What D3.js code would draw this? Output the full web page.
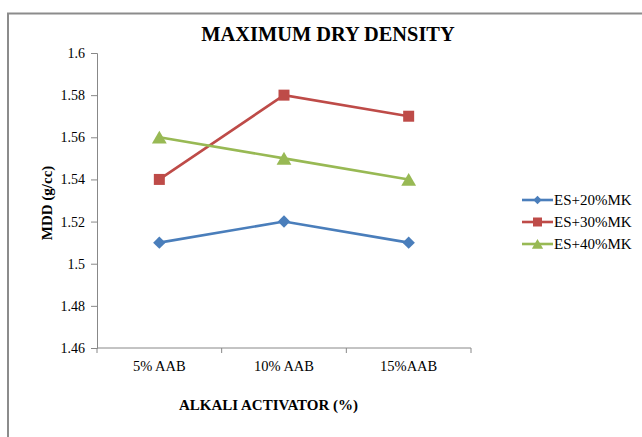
<!DOCTYPE html>
<html>
<head>
<meta charset="utf-8">
<script src="https://cdn.jsdelivr.net/npm/d3@7/dist/d3.min.js"></script>
<style>
  body { margin: 0; background: #fff; }
  svg { display: block; font-family: "Liberation Serif", "Times New Roman", serif; }
</style>
</head>
<body>
<svg id="chart" width="642" height="437"></svg>
<script>
const categories = ["5% AAB", "10% AAB", "15%AAB"];
const seriesNames = ["ES+20%MK", "ES+30%MK", "ES+40%MK"];
const es20 = [1.51, 1.52, 1.51];
const es30 = [1.54, 1.58, 1.57];
const es40 = [1.56, 1.55, 1.54];
const yTicks = [1.46, 1.48, 1.5, 1.52, 1.54, 1.56, 1.58, 1.6];
const colors = ["#4A7EBB", "#BE4B48", "#98B954"];
const symbols = [d3.symbolDiamond2, d3.symbolSquare, d3.symbolTriangle];
const symbolSizes = [98, 121, 95];
const legendSizes = [45, 81, 55];

const series = [es20, es30, es40];
const FONT = "'Liberation Serif', 'Times New Roman', serif";
const svg = d3.select("#chart");

// outer chart frame (left and top edges visible)
svg.append("path")
  .attr("d", "M8,437 V13.5 H642")
  .attr("fill", "none").attr("stroke", "#8c8c8c").attr("stroke-width", 2);

const plot = { left: 97, right: 471, top: 53, bottom: 348 };

const x = d3.scaleBand().domain(categories).range([plot.left, plot.right]);
const y = d3.scaleLinear().domain([1.46, 1.6]).range([plot.bottom, plot.top]);
const cx = c => x(c) + x.bandwidth() / 2;

// y axis
const yAxis = svg.append("g")
  .attr("transform", `translate(${plot.left},0)`)
  .call(d3.axisLeft(y).tickValues(yTicks).tickSize(6).tickPadding(6)
    .tickFormat(d => String(+d.toFixed(2))));
yAxis.attr("font-family", FONT).attr("font-size", 14);
yAxis.select(".domain").attr("stroke", "#888");
yAxis.selectAll(".tick line").attr("stroke", "#888");
yAxis.selectAll(".tick text").attr("fill", "#000");

// x axis with ticks at category boundaries
const xAxisG = svg.append("g").attr("transform", `translate(0,${plot.bottom})`)
  .attr("font-family", FONT);
xAxisG.append("line").attr("x1", plot.left).attr("x2", plot.right)
  .attr("stroke", "#888");
const bounds = categories.map(c => x(c)).concat([x(categories[categories.length - 1]) + x.bandwidth()]);
xAxisG.selectAll(".bt").data(bounds).join("line")
  .attr("x1", d => d).attr("x2", d => d).attr("y1", 0).attr("y2", 5)
  .attr("stroke", "#888");
xAxisG.selectAll(".lbl").data(categories).join("text")
  .attr("x", d => cx(d)).attr("y", 23)
  .attr("text-anchor", "middle").attr("font-size", 14.5).text(d => d);

// series lines and markers
const line = d3.line().x((d, i) => cx(categories[i])).y(d => y(d));
series.forEach((vals, s) => {
  svg.append("path").datum(vals).attr("d", line)
    .attr("fill", "none").attr("stroke", colors[s]).attr("stroke-width", 2.6);
  svg.selectAll(".m" + s).data(vals).join("path")
    .attr("transform", (d, i) => `translate(${cx(categories[i])},${y(d) + (s === 2 ? 2 : 0)})`)
    .attr("d", d3.symbol().type(symbols[s]).size(symbolSizes[s]))
    .attr("fill", colors[s]);
});

// title
svg.append("text").attr("x", 328).attr("y", 41).attr("text-anchor", "middle")
  .attr("font-size", 20.4).attr("font-weight", "bold").text("MAXIMUM DRY DENSITY");

// axis titles
svg.append("text").attr("transform", "translate(52,203) rotate(-90)")
  .attr("text-anchor", "middle").attr("font-size", 15).attr("font-weight", "bold")
  .text("MDD (g/cc)");
svg.append("text").attr("x", 268.5).attr("y", 410).attr("text-anchor", "middle")
  .attr("font-size", 15).attr("font-weight", "bold").text("ALKALI ACTIVATOR (%)");

// legend
const legend = svg.append("g");
seriesNames.forEach((name, s) => {
  const ly = 200 + s * 22;
  legend.append("line").attr("x1", 522).attr("x2", 553).attr("y1", ly).attr("y2", ly)
    .attr("stroke", colors[s]).attr("stroke-width", 2.6);
  legend.append("path").attr("transform", `translate(537.5,${ly + (s === 2 ? 1.5 : 0)})`)
    .attr("d", d3.symbol().type(symbols[s]).size(legendSizes[s])).attr("fill", colors[s]);
  legend.append("text").attr("x", 554).attr("y", ly + 5).attr("font-size", 15).text(name);
});
</script>
</body>
</html>
